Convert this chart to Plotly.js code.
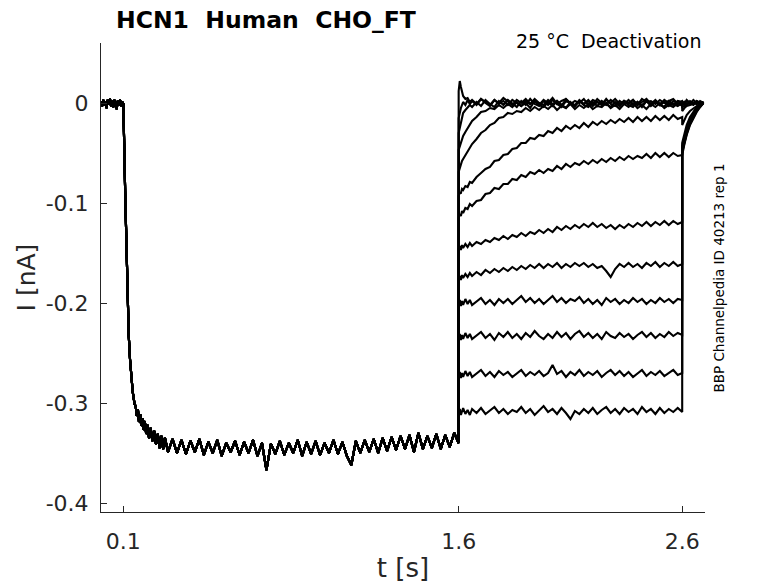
<!DOCTYPE html>
<html>
<head>
<meta charset="utf-8">
<script src="https://cdn.plot.ly/plotly-3.0.1.min.js"></script>
<style>
  html, body { margin: 0; padding: 0; background: #fff; }
  #plot_deact { width: 778px; height: 583px; }
</style>
</head>
<body>
<div id="plot_deact"></div>
<script>
// common part: holding, activation step at 0.1 s, plateau until 1.6 s
tAct = [0, 0.005, 0.01, 0.015, 0.02, 0.025, 0.03, 0.035, 0.04, 0.045, 0.05,
        0.055, 0.06, 0.065, 0.07, 0.075, 0.08, 0.085, 0.09, 0.095, 0.1,
        0.102, 0.104, 0.106, 0.108, 0.110, 0.112, 0.115, 0.119, 0.124, 0.130,
        0.136, 0.142, 0.150, 0.155, 0.160, 0.165, 0.170, 0.175, 0.180, 0.185,
        0.190, 0.196, 0.202, 0.208, 0.215, 0.222, 0.230, 0.238, 0.246, 0.254,
        0.262, 0.270, 0.278, 0.286,
        0.30, 0.32, 0.34, 0.36, 0.38, 0.40, 0.42, 0.44, 0.46, 0.48, 0.50, 0.52, 0.54, 0.56, 0.58,
        0.60, 0.62, 0.64, 0.66, 0.68, 0.70, 0.72, 0.74, 0.76, 0.78, 0.80, 0.82, 0.84, 0.86, 0.88,
        0.90, 0.92, 0.94, 0.96, 0.98, 1.00, 1.02, 1.04, 1.06, 1.08, 1.10, 1.12, 1.14, 1.16, 1.18,
        1.20, 1.22, 1.24, 1.26, 1.28, 1.30, 1.32, 1.34, 1.36, 1.38, 1.40, 1.42, 1.44, 1.46, 1.48,
        1.50, 1.52, 1.54, 1.56, 1.58, 1.60];
iAct = [0.002, -0.003, 0.003, -0.002, 0.001, -0.005, 0.003, -0.001, 0.004, -0.003, 0.002,
        -0.004, 0.003, 0.000, -0.006, 0.002, -0.002, 0.003, -0.003, 0.001, -0.001,
        -0.015, -0.040, -0.065, -0.088, -0.110, -0.130, -0.157, -0.200, -0.232, -0.257,
        -0.276, -0.289, -0.301, -0.303, -0.313, -0.306, -0.319, -0.311, -0.323, -0.315,
        -0.327, -0.318, -0.331, -0.322, -0.335, -0.325, -0.338, -0.328, -0.341, -0.331,
        -0.345, -0.333, -0.346, -0.335,
        -0.349, -0.336, -0.350, -0.337, -0.351, -0.338, -0.349, -0.336, -0.352, -0.339, -0.350, -0.337, -0.353, -0.340, -0.349,
        -0.338, -0.352, -0.339, -0.350, -0.337, -0.353, -0.340, -0.367, -0.341, -0.351, -0.338, -0.352, -0.340, -0.350, -0.337,
        -0.353, -0.339, -0.351, -0.338, -0.352, -0.340, -0.350, -0.337, -0.351, -0.339, -0.353, -0.362, -0.338, -0.350, -0.337,
        -0.349, -0.336, -0.350, -0.335, -0.348, -0.334, -0.347, -0.333, -0.346, -0.332, -0.349, -0.330, -0.346, -0.333, -0.345,
        -0.331, -0.346, -0.332, -0.344, -0.330, -0.340];

// tail step 1.6 - 2.6 s
tTail = [1.6, 1.605, 1.61, 1.615, 1.62, 1.63, 1.64, 1.65,
         1.66, 1.68, 1.70, 1.72, 1.74, 1.76, 1.78, 1.80,
         1.82, 1.84, 1.86, 1.88, 1.90, 1.92, 1.94, 1.96,
         1.98, 2.00, 2.02, 2.04, 2.06, 2.08, 2.10, 2.12,
         2.14, 2.16, 2.18, 2.20, 2.22, 2.24, 2.26, 2.28,
         2.30, 2.32, 2.34, 2.36, 2.38, 2.40, 2.42, 2.44,
         2.46, 2.48, 2.50, 2.52, 2.54, 2.56, 2.58, 2.60];

tail1 = [-0.310,-0.306,-0.312,-0.308,-0.305,-0.311,-0.307,-0.312,
         -0.306,-0.310,-0.305,-0.311,-0.307,-0.304,-0.310,-0.306,
         -0.311,-0.307,-0.309,-0.304,-0.310,-0.306,-0.312,-0.307,
         -0.303,-0.309,-0.306,-0.311,-0.305,-0.310,-0.316,-0.308,
         -0.311,-0.306,-0.310,-0.305,-0.311,-0.307,-0.304,-0.310,
         -0.306,-0.311,-0.305,-0.309,-0.306,-0.311,-0.304,-0.309,
         -0.306,-0.311,-0.305,-0.310,-0.306,-0.309,-0.305,-0.309];
tail2 = [-0.273,-0.269,-0.275,-0.270,-0.274,-0.268,-0.273,-0.269,
         -0.274,-0.270,-0.267,-0.273,-0.269,-0.274,-0.268,-0.272,
         -0.269,-0.274,-0.270,-0.267,-0.273,-0.269,-0.272,-0.268,
         -0.273,-0.270,-0.262,-0.271,-0.268,-0.274,-0.269,-0.272,
         -0.267,-0.273,-0.269,-0.272,-0.268,-0.274,-0.270,-0.267,
         -0.272,-0.268,-0.273,-0.269,-0.274,-0.270,-0.267,-0.273,
         -0.269,-0.272,-0.268,-0.273,-0.270,-0.267,-0.272,-0.270];
tail3 = [-0.235,-0.231,-0.237,-0.232,-0.236,-0.230,-0.235,-0.231,
         -0.236,-0.232,-0.229,-0.235,-0.231,-0.237,-0.230,-0.234,
         -0.229,-0.235,-0.231,-0.236,-0.230,-0.234,-0.228,-0.233,
         -0.236,-0.231,-0.235,-0.229,-0.234,-0.230,-0.236,-0.231,
         -0.228,-0.234,-0.230,-0.235,-0.231,-0.236,-0.229,-0.233,
         -0.235,-0.230,-0.234,-0.231,-0.236,-0.232,-0.229,-0.234,
         -0.230,-0.235,-0.231,-0.234,-0.229,-0.233,-0.230,-0.232];
tail4 = [-0.201,-0.197,-0.203,-0.198,-0.202,-0.196,-0.201,-0.197,
         -0.202,-0.198,-0.195,-0.201,-0.197,-0.202,-0.196,-0.200,
         -0.196,-0.201,-0.197,-0.193,-0.199,-0.195,-0.200,-0.196,
         -0.201,-0.197,-0.193,-0.199,-0.195,-0.200,-0.196,-0.198,
         -0.194,-0.200,-0.196,-0.201,-0.197,-0.202,-0.195,-0.199,
         -0.196,-0.201,-0.197,-0.200,-0.195,-0.199,-0.196,-0.201,
         -0.197,-0.200,-0.195,-0.199,-0.196,-0.200,-0.196,-0.197];
tail5 = [-0.176,-0.173,-0.177,-0.172,-0.175,-0.171,-0.174,-0.170,
         -0.173,-0.169,-0.172,-0.167,-0.170,-0.166,-0.169,-0.165,
         -0.168,-0.164,-0.167,-0.163,-0.166,-0.162,-0.165,-0.161,
         -0.165,-0.161,-0.164,-0.160,-0.165,-0.161,-0.164,-0.160,
         -0.163,-0.160,-0.164,-0.161,-0.165,-0.163,-0.168,-0.174,
         -0.166,-0.161,-0.164,-0.160,-0.164,-0.161,-0.165,-0.160,
         -0.163,-0.159,-0.164,-0.160,-0.163,-0.159,-0.163,-0.161];
tail6 = [-0.146,-0.143,-0.147,-0.142,-0.145,-0.141,-0.144,-0.140,
         -0.143,-0.139,-0.141,-0.137,-0.139,-0.135,-0.137,-0.133,
         -0.136,-0.132,-0.134,-0.130,-0.133,-0.129,-0.131,-0.127,
         -0.130,-0.126,-0.129,-0.124,-0.127,-0.123,-0.126,-0.122,
         -0.125,-0.121,-0.124,-0.120,-0.124,-0.121,-0.125,-0.122,
         -0.126,-0.122,-0.125,-0.121,-0.124,-0.120,-0.123,-0.119,
         -0.123,-0.119,-0.122,-0.118,-0.122,-0.118,-0.121,-0.119];
tail7 = [-0.115,-0.111,-0.113,-0.108,-0.110,-0.105,-0.106,-0.101,
         -0.103,-0.098,-0.097,-0.091,-0.090,-0.085,-0.086,-0.081,
         -0.081,-0.076,-0.077,-0.072,-0.074,-0.069,-0.071,-0.067,
         -0.070,-0.066,-0.068,-0.063,-0.066,-0.061,-0.064,-0.060,
         -0.062,-0.058,-0.061,-0.057,-0.060,-0.056,-0.059,-0.055,
         -0.058,-0.054,-0.057,-0.053,-0.056,-0.053,-0.055,-0.051,
         -0.055,-0.050,-0.054,-0.050,-0.054,-0.050,-0.053,-0.052];
tail8 = [-0.093,-0.090,-0.090,-0.086,-0.087,-0.083,-0.084,-0.079,
         -0.080,-0.074,-0.070,-0.066,-0.064,-0.058,-0.057,-0.052,
         -0.051,-0.046,-0.045,-0.040,-0.040,-0.035,-0.036,-0.032,
         -0.033,-0.028,-0.030,-0.025,-0.028,-0.023,-0.026,-0.022,
         -0.025,-0.020,-0.024,-0.019,-0.022,-0.018,-0.021,-0.017,
         -0.020,-0.016,-0.019,-0.015,-0.019,-0.014,-0.018,-0.014,
         -0.018,-0.013,-0.017,-0.013,-0.017,-0.012,-0.016,-0.014];
tail9 = [-0.069,-0.065,-0.062,-0.058,-0.056,-0.052,-0.048,-0.045,
         -0.041,-0.036,-0.030,-0.027,-0.022,-0.020,-0.015,-0.014,
         -0.010,-0.011,-0.008,-0.009,-0.005,-0.008,-0.004,-0.007,
         -0.003,-0.006,-0.002,-0.007,-0.003,-0.005,-0.001,-0.006,
         -0.002,-0.005,-0.001,-0.006,-0.003,-0.004,0.000,-0.005,
         -0.002,-0.006,-0.001,-0.004,0.000,-0.005,-0.002,-0.006,
         -0.001,-0.004,0.000,-0.005,-0.002,-0.004,0.000,-0.003];
tail10 = [-0.047,-0.043,-0.039,-0.036,-0.033,-0.029,-0.025,-0.022,
          -0.018,-0.014,-0.009,-0.008,-0.005,-0.006,-0.002,-0.005,
          -0.001,-0.004,0.001,-0.003,0.000,-0.005,0.002,-0.002,
          -0.004,0.001,-0.003,0.002,-0.002,-0.005,0.001,-0.003,
          0.002,-0.002,-0.004,0.001,-0.003,0.002,-0.001,-0.004,
          0.001,-0.003,0.002,-0.002,-0.004,0.001,-0.002,0.002,
          -0.003,0.001,-0.002,-0.004,0.002,-0.001,-0.003,0.000];
tail11 = [-0.030,-0.024,-0.018,-0.012,-0.010,-0.007,-0.005,-0.002,
          -0.004,0.001,-0.003,0.003,-0.001,-0.004,0.002,-0.002,
          0.003,-0.001,-0.004,0.002,-0.002,0.004,-0.001,-0.003,
          0.002,-0.002,0.003,-0.001,-0.004,0.002,0.000,-0.003,
          0.003,-0.001,0.002,-0.003,0.001,-0.002,0.004,-0.001,
          -0.003,0.002,-0.001,0.003,-0.002,0.001,-0.004,0.002,
          -0.001,0.003,-0.002,0.001,-0.003,0.002,0.000,-0.001];
tail12 = [-0.015,-0.009,-0.005,-0.002,0.001,-0.002,0.003,-0.001,
          0.002,-0.002,0.004,0.000,-0.003,0.003,-0.001,0.002,
          -0.002,0.003,0.000,-0.003,0.002,-0.001,0.004,0.000,
          -0.002,0.003,-0.001,0.002,-0.003,0.004,0.000,-0.002,
          0.002,-0.001,0.003,-0.002,0.004,0.000,-0.002,0.003,
          0.000,-0.003,0.002,-0.001,0.003,-0.002,0.001,0.004,
          -0.001,0.002,-0.002,0.003,0.000,-0.002,0.002,0.001];
tail13 = [0.012,0.022,0.016,0.010,0.007,0.004,0.005,0.001,
          0.003,-0.001,0.004,0.001,-0.002,0.003,0.000,0.005,
          0.001,-0.002,0.003,0.000,0.004,-0.001,0.002,-0.002,
          0.003,0.000,0.005,-0.001,0.002,0.004,-0.001,0.002,
          0.000,0.004,-0.002,0.003,0.001,-0.001,0.003,0.000,
          0.004,-0.001,0.002,0.000,0.003,-0.002,0.004,0.001,
          0.002,-0.001,0.003,0.000,0.002,0.004,-0.001,0.002];

// return to holding after 2.6 s
tPost = [2.6, 2.61, 2.62, 2.635, 2.65, 2.665, 2.68, 2.695];
post1 = [-0.050, -0.040, -0.031, -0.021, -0.014, -0.008, -0.004, 0.000];
post2 = [-0.048, -0.038, -0.030, -0.020, -0.013, -0.007, -0.003, 0.001];
post3 = [-0.047, -0.037, -0.029, -0.019, -0.012, -0.007, -0.003, 0.000];
post4 = [-0.045, -0.035, -0.027, -0.018, -0.011, -0.006, -0.002, 0.001];
post5 = [-0.043, -0.033, -0.025, -0.016, -0.010, -0.005, -0.002, 0.000];
post6 = [-0.040, -0.030, -0.022, -0.014, -0.009, -0.004, -0.001, 0.001];
post7 = [-0.052, -0.041, -0.032, -0.022, -0.015, -0.009, -0.004, 0.000];
post8 = [-0.022, -0.017, -0.012, -0.008, -0.005, -0.003, -0.001, 0.000];
post9 = [-0.008, -0.005, -0.003, -0.002, -0.001, 0.000, 0.001, 0.000];
post10 = [-0.004, -0.003, -0.002, 0.001, -0.001, 0.002, 0.000, 0.001];
post11 = [-0.002, 0.001, -0.002, 0.002, 0.000, -0.001, 0.002, 0.000];
post12 = [0.001, -0.002, 0.002, -0.001, 0.003, 0.000, -0.002, 0.001];
post13 = [0.002, -0.001, 0.003, 0.000, -0.002, 0.002, 0.000, -0.001];

xTicks = [0.1, 1.6, 2.6];
xTickText = ['0.1', '1.6', '2.6'];
yTicks = [-0.4, -0.3, -0.2, -0.1, 0];
yTickText = ['-0.4', '-0.3', '-0.2', '-0.1', '0'];

var tails = [tail1, tail2, tail3, tail4, tail5, tail6, tail7, tail8, tail9, tail10, tail11, tail12, tail13];
var posts = [post1, post2, post3, post4, post5, post6, post7, post8, post9, post10, post11, post12, post13];

var tAll = tAct.concat(tTail, tPost);
var data = [];
for (var k = 0; k < tails.length; k++) {
  data.push({
    x: tAll,
    y: iAct.concat(tails[k], posts[k]),
    type: 'scatter',
    mode: 'lines',
    line: {color: '#000000', width: 2.1},
    hoverinfo: 'skip',
    showlegend: false
  });
}

var axisFont = {family: 'DejaVu Sans', size: 22, color: '#262626'};

var layout = {
  width: 778,
  height: 583,
  margin: {l: 101, r: 73, t: 43, b: 71},
  paper_bgcolor: '#ffffff',
  plot_bgcolor: '#ffffff',
  font: {family: 'DejaVu Sans', color: '#262626'},
  showlegend: false,
  xaxis: {
    range: [0, 2.702],
    tickvals: xTicks,
    ticktext: xTickText,
    ticks: 'inside',
    ticklen: 6,
    tickcolor: '#262626',
    tickfont: axisFont,
    ticklabelstandoff: 10,
    showline: true,
    linecolor: '#262626',
    linewidth: 1,
    showgrid: false,
    zeroline: false,
    title: {text: 't [s]', font: {family: 'DejaVu Sans', size: 26, color: '#262626'}, standoff: 6}
  },
  yaxis: {
    range: [-0.409, 0.06],
    tickvals: yTicks,
    ticktext: yTickText,
    ticks: 'inside',
    ticklen: 6,
    tickcolor: '#262626',
    tickfont: axisFont,
    ticklabelstandoff: 7,
    showline: true,
    linecolor: '#262626',
    linewidth: 1,
    showgrid: false,
    zeroline: false,
    title: {text: 'I [nA]', font: {family: 'DejaVu Sans', size: 25, color: '#262626'}, standoff: 2}
  },
  annotations: [
    {
      text: '<b>HCN1\u00a0 Human\u00a0 CHO_FT</b>',
      xref: 'paper', yref: 'paper',
      x: 0.0215, y: 1.049, xanchor: 'left', yanchor: 'middle',
      showarrow: false,
      font: {family: 'DejaVu Sans', size: 23.5, color: '#000000'}
    },
    {
      text: '25 \u00b0C\u00a0 Deactivation',
      xref: 'paper', yref: 'paper',
      x: 0.9967, y: 1.004, xanchor: 'right', yanchor: 'middle',
      showarrow: false,
      font: {family: 'DejaVu Sans', size: 19, color: '#000000'}
    },
    {
      text: 'BBP Channelpedia ID 40213 rep 1',
      xref: 'paper', yref: 'paper',
      x: 1.0225, y: 0.499, xanchor: 'center', yanchor: 'middle',
      textangle: -90,
      showarrow: false,
      font: {family: 'DejaVu Sans', size: 13.5, color: '#000000'}
    }
  ]
};

var config = {
  responsive: false,
  displayModeBar: false,
  staticPlot: true
}

Plotly.newPlot('plot_deact', data, layout, config);
</script>
</body>
</html>
